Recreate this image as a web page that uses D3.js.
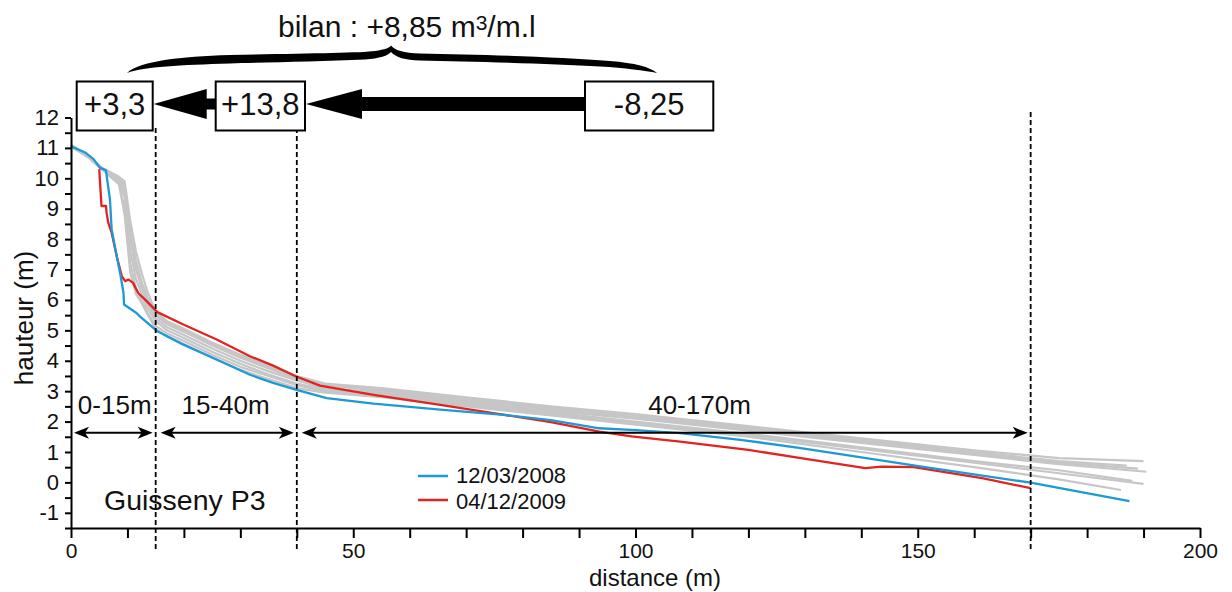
<!DOCTYPE html>
<html>
<head>
<meta charset="utf-8">
<script src="https://cdn.jsdelivr.net/npm/d3@7"></script>
<style>
  html, body { margin: 0; padding: 0; background: #fff; }
  svg text { font-family: "Liberation Sans", Arial, Helvetica, sans-serif; fill: #111; }
</style>
</head>
<body>
<svg id="chart" width="1232" height="592"></svg>
<script>
// ---------------- DATA ----------------
const seriesNames = ["12/03/2008", "04/12/2009"];

// profile 12/03/2008 : [distance (m), hauteur (m)]
const profile2008 = [
  [0, 11.05], [2.5, 10.85], [4, 10.63], [5.1, 10.35], [6.2, 10.26], [6.4, 9.97],
  [6.9, 9.31], [7.2, 8.32], [8.1, 7.44], [8.8, 6.78], [9.3, 6.23], [9.4, 5.85],
  [11.6, 5.57], [12.2, 5.46], [15.3, 4.97], [19.9, 4.53], [25.8, 4.04], [31.7, 3.54],
  [35.8, 3.27], [39.8, 3.05], [45.3, 2.77], [53.6, 2.59], [65.4, 2.39], [77.2, 2.21],
  [85, 2.05], [93.6, 1.78], [100, 1.72], [107.9, 1.62], [118.6, 1.4], [129.3, 1.13],
  [150.7, 0.52], [170, -0.01], [187.5, -0.62]
];

// profile 04/12/2009
const profile2009 = [
  [5.0, 10.3], [5.4, 9.09], [6.2, 9.09], [6.3, 8.87], [6.6, 8.54], [7.2, 8.21],
  [8.1, 7.44], [9.0, 6.78], [9.6, 6.62], [10.2, 6.67], [11.0, 6.56], [11.9, 6.23],
  [13.4, 5.96], [15.3, 5.6], [19.9, 5.19], [25.8, 4.7], [31.7, 4.15], [35.8, 3.84],
  [39.8, 3.49], [44.1, 3.18], [53.6, 2.88], [65.4, 2.55], [74.8, 2.28], [85, 1.98],
  [93.6, 1.67], [99.3, 1.51], [107.9, 1.34], [120, 1.07], [129.3, 0.8], [140.7, 0.47],
  [143.6, 0.52], [149.3, 0.5], [161.4, 0.14], [170, -0.19]
];

// other surveys (grey), shared distances + heights per survey
const greyDistances = [0, 3, 5.5, 7, 8.5, 9.5, 10.5, 11.5, 12.5, 13.5, 15, 17, 20, 25, 30, 35, 40, 45, 55, 70, 85, 100, 120, 140, 160, 175];
const grey1 = [11.1, 10.75, 10.35, 10.2, 10.05, 9.9, 8.6, 7.6, 6.9, 6.3, 5.6, 5.3, 5.05, 4.6, 4.2, 3.85, 3.5, 3.25, 3.1, 2.8, 2.5, 2.25, 1.85, 1.45, 1.05, 0.8];
const grey2 = [11.1, 10.7, 10.3, 10.15, 10.0, 9.8, 8.3, 7.3, 6.6, 6.1, 5.5, 5.2, 4.95, 4.5, 4.1, 3.75, 3.4, 3.2, 3.0, 2.7, 2.4, 2.15, 1.75, 1.35, 0.95, 0.65];
const grey3 = [11.1, 10.7, 10.3, 10.1, 9.95, 9.7, 8.0, 7.0, 6.4, 5.9, 5.4, 5.1, 4.85, 4.4, 4.0, 3.65, 3.35, 3.1, 2.95, 2.65, 2.35, 2.1, 1.7, 1.3, 0.9, 0.6];
const grey4 = [11.05, 10.7, 10.3, 10.1, 9.9, 9.4, 7.6, 6.7, 6.2, 5.75, 5.3, 5.0, 4.75, 4.3, 3.9, 3.55, 3.25, 3.05, 2.9, 2.6, 2.3, 2.0, 1.6, 1.15, 0.7, 0.4];
const grey5 = [11.05, 10.7, 10.3, 10.05, 9.85, 9.0, 7.2, 6.4, 6.0, 5.6, 5.15, 4.9, 4.65, 4.2, 3.8, 3.5, 3.2, 3.0, 2.85, 2.55, 2.25, 1.95, 1.55, 1.1, 0.65, 0.3];
const grey6 = [11.1, 10.75, 10.3, 10.1, 9.95, 9.6, 8.1, 7.1, 6.5, 6.0, 5.5, 5.25, 5.0, 4.55, 4.15, 3.8, 3.45, 3.2, 3.05, 2.75, 2.45, 2.2, 1.8, 1.4, 1.0, 0.7];
const grey7 = [11.05, 10.7, 10.3, 10.05, 9.8, 8.8, 6.9, 6.2, 5.9, 5.55, 5.05, 4.8, 4.55, 4.1, 3.7, 3.4, 3.1, 2.95, 2.8, 2.5, 2.2, 1.9, 1.5, 1.0, 0.5, 0.1];
const greyEnds = [[190, 0.7], [189, 0.45], [190.5, 0.35], [188, 0.05], [190, -0.05], [187, 0.55], [186, -0.25]];

// sections and volumes
const sectionBounds = [0, 15, 40, 170];
const sectionLabels = ["0-15m", "15-40m", "40-170m"];
const volumeLabels = ["+3,3", "+13,8", "-8,25"];
const bilanLabel = ["bilan : +8,85 m", "3", "/m.l"];
const siteLabel = "Guisseny P3";

// axes
const xTicks = [0, 10, 20, 30, 40, 50, 60, 70, 80, 90, 100, 110, 120, 130, 140, 150, 160, 170, 180, 190, 200];
const xTickLabels = [0, 50, 100, 150, 200];
const yTicks = [-1.5, -1, -0.5, 0, 0.5, 1, 1.5, 2, 2.5, 3, 3.5, 4, 4.5, 5, 5.5, 6, 6.5, 7, 7.5, 8, 8.5, 9, 9.5, 10, 10.5, 11, 11.5, 12];
const xTitle = "distance (m)";
const yTitle = "hauteur (m)";

// ---------------- DRAW ----------------
const BLUE = "#1d9ad6", RED = "#e2231f", GREY = "#c6c6c6";
const svg = d3.select("#chart");
const x = d3.scaleLinear().domain([0, 200]).range([71, 1200]);
const y = d3.scaleLinear().domain([-1.5, 12]).range([528, 117.5]);
const line = d3.line().x(d => x(d[0])).y(d => y(d[1]));

// grey surveys
const greySets = [grey1, grey2, grey3, grey4, grey5, grey6, grey7];
const greyProfiles = greySets.map((hs, i) => greyDistances.map((dd, j) => [dd, hs[j]]).concat([greyEnds[i]]));
svg.append("g").selectAll("path").data(greyProfiles).join("path")
  .attr("d", line).attr("fill", "none").attr("stroke", GREY).attr("stroke-width", 2.2)
  .attr("stroke-linejoin", "round");

// red then blue
svg.append("path").datum(profile2009).attr("d", line).attr("fill", "none")
  .attr("stroke", RED).attr("stroke-width", 2.3).attr("stroke-linejoin", "round");
svg.append("path").datum(profile2008).attr("d", line).attr("fill", "none")
  .attr("stroke", BLUE).attr("stroke-width", 2.3).attr("stroke-linejoin", "round");

// dashed section lines
const dashTop = [128, 128, 112];
svg.append("g").selectAll("line").data(sectionBounds.slice(1)).join("line")
  .attr("x1", d => x(d)).attr("x2", d => x(d))
  .attr("y1", (d, i) => dashTop[i]).attr("y2", 550)
  .attr("stroke", "#000").attr("stroke-width", 1.8).attr("stroke-dasharray", "5,3");

// axes
const xAxis = d3.axisBottom(x).tickValues(xTicks)
  .tickFormat(d => xTickLabels.includes(d) ? d : "")
  .tickSize(10).tickSizeOuter(0).tickPadding(5);
const gx = svg.append("g").attr("transform", `translate(0,${y(-1.5)})`).call(xAxis);
const yAxis = d3.axisLeft(y).tickValues(yTicks)
  .tickFormat(d => Number.isInteger(d) ? d : "")
  .tickSize(6).tickSizeOuter(0).tickPadding(6);
const gy = svg.append("g").attr("transform", `translate(${x(0)},0)`).call(yAxis);
[gx, gy].forEach(g => {
  g.select(".domain").attr("stroke", "#000").attr("stroke-width", 2);
  g.selectAll(".tick line").attr("stroke", "#000").attr("stroke-width", 2);
  g.selectAll(".tick text").attr("font-size", 22).attr("fill", "#111")
    .attr("font-family", '"Liberation Sans", Arial, sans-serif');
});
gx.selectAll(".tick text").attr("font-size", 21);

svg.append("text").attr("x", 655).attr("y", 586).attr("text-anchor", "middle")
  .attr("font-size", 24).text(xTitle);
svg.append("text").attr("transform", "translate(33,318) rotate(-90)").attr("text-anchor", "middle")
  .attr("font-size", 26).text(yTitle);

// section double arrows
const arrowY = y(1.63);
function headPath(tx, ty, dir) { // dir: -1 points left, +1 points right
  const L = 15, W = 6, N = 4;
  return `M${tx},${ty} L${tx - dir * L},${ty - W} L${tx - dir * (L - N)},${ty} L${tx - dir * L},${ty + W} Z`;
}
const sections = sectionLabels.map((lab, i) => ({
  lab, a: sectionBounds[i], b: sectionBounds[i + 1]
}));
const sg = svg.append("g");
sections.forEach((s, i) => {
  const x0 = x(s.a) + (i === 0 ? 3 : 5), x1 = x(s.b) - 3;
  sg.append("line").attr("x1", x0 + 5).attr("x2", x1 - 5).attr("y1", arrowY).attr("y2", arrowY)
    .attr("stroke", "#000").attr("stroke-width", 2);
  sg.append("path").attr("d", headPath(x0, arrowY, -1)).attr("fill", "#000");
  sg.append("path").attr("d", headPath(x1, arrowY, 1)).attr("fill", "#000");
});
const secLabelX = [114.7, 225.5, 699.5];
sg.selectAll("text").data(sectionLabels).join("text")
  .attr("x", (d, i) => secLabelX[i]).attr("y", 414).attr("text-anchor", "middle")
  .attr("font-size", 26).text(d => d);

// site label
svg.append("text").attr("x", 104).attr("y", 510).attr("font-size", 28.5).text(siteLabel);

// legend
const lg = svg.append("g");
[[BLUE, 476, 483], [RED, 500, 509]].forEach((c, i) => {
  lg.append("line").attr("x1", 418).attr("x2", 448).attr("y1", c[1]).attr("y2", c[1])
    .attr("stroke", c[0]).attr("stroke-width", 2.5);
  lg.append("text").attr("x", 456).attr("y", c[2]).attr("font-size", 22).text(seriesNames[i]);
});

// volume boxes
const boxes = [[76.7, 152.7], [215.7, 305], [585, 713.3]];
const boxTop = 81.5, boxBot = 130.5, midY = 104;
const bg = svg.append("g");
boxes.forEach((b, i) => {
  bg.append("rect").attr("x", b[0]).attr("y", boxTop).attr("width", b[1] - b[0]).attr("height", boxBot - boxTop)
    .attr("fill", "#fff").attr("stroke", "#000").attr("stroke-width", 2);
  bg.append("text").attr("x", (b[0] + b[1]) / 2).attr("y", 115).attr("text-anchor", "middle")
    .attr("font-size", 31).text(volumeLabels[i]);
});
// big arrows between boxes (pointing left)
function bigArrow(tipX, headBaseX, tailX, half, headHalf) {
  return `M${tipX},${midY} L${headBaseX},${midY - headHalf} L${headBaseX},${midY - half} L${tailX},${midY - half}` +
         ` L${tailX},${midY + half} L${headBaseX},${midY + half} L${headBaseX},${midY + headHalf} Z`;
}
bg.append("path").attr("d", bigArrow(boxes[0][1] + 1, 206.7, boxes[1][0], 5.5, 15)).attr("fill", "#000");
bg.append("path").attr("d", bigArrow(boxes[1][1] + 1, 362, boxes[2][0], 7, 15)).attr("fill", "#000");

// brace
const bracePath =
  "M127,73 C140,61 180,56.5 230,55 C300,53.5 360,53 375,51 C385,49.5 389,48 391,45.5 " +
  "C394,50 404,53 420,53.5 C480,54.5 560,57 610,61 C635,63 650,67 657,73 " +
  "C645,70.5 625,68 600,66.5 C550,63.5 470,61.5 420,60.5 C405,60 396,57.5 391,52 " +
  "C388,55.5 380,58.5 365,59.5 C320,61.5 260,62.5 230,63.5 C180,65 145,66.5 127,73 Z";
svg.append("path").attr("d", bracePath).attr("fill", "#000");

// bilan title
const t = svg.append("text").attr("x", 278).attr("y", 37).attr("font-size", 30);
t.append("tspan").text(bilanLabel[0]);
t.append("tspan").attr("font-size", 21).attr("dy", -7).text(bilanLabel[1]);
t.append("tspan").attr("dy", 7).text(bilanLabel[2]);
</script>
</body>
</html>
